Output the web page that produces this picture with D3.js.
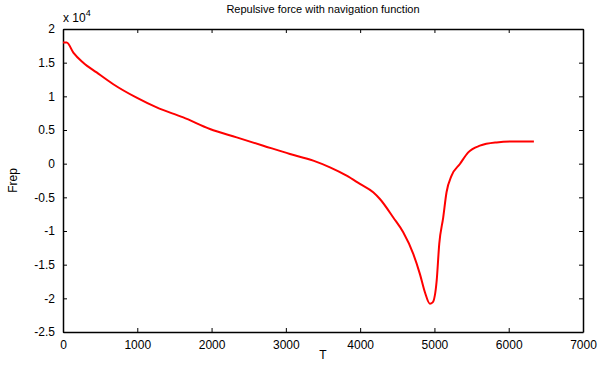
<!DOCTYPE html>
<html>
<head>
<meta charset="utf-8">
<script src="https://cdn.jsdelivr.net/npm/d3@7/dist/d3.min.js"></script>
<style>
  body { margin: 0; background: #fff; }
  text { font-family: "Liberation Sans", Arial, sans-serif; }
</style>
</head>
<body>
<svg id="chart" width="600" height="365"></svg>
<script>
// Repulsive force samples (T, Frep in units of 1e4)
const timeSteps = [0, 50, 139, 273, 453, 677, 991, 1261, 1619, 1978, 2338, 2696, 3055, 3369, 3594, 3818, 3997, 4176, 4266, 4446, 4580, 4715, 4805, 4872, 4939, 4976, 5030, 5065, 5118, 5163, 5231, 5343, 5455, 5612, 5837, 6061, 6339];
const frepValues = [1.80, 1.80, 1.65, 1.50, 1.355, 1.18, 0.98, 0.835, 0.687, 0.514, 0.39, 0.267, 0.144, 0.045, -0.055, -0.178, -0.30, -0.425, -0.525, -0.80, -1.02, -1.34, -1.64, -1.91, -2.08, -2.06, -1.74, -1.19, -0.80, -0.425, -0.178, -0.005, 0.168, 0.267, 0.316, 0.33, 0.33];
const xTicks = [0, 1000, 2000, 3000, 4000, 5000, 6000, 7000];
const yTicks = [-2.5, -2, -1.5, -1, -0.5, 0, 0.5, 1, 1.5, 2];

const svg = d3.select("#chart");
const plotLeft = 63, plotRight = 583, plotTop = 29, plotBottom = 332;

const x = d3.scaleLinear().domain([0, 7000]).range([plotLeft, plotRight]);
const y = d3.scaleLinear().domain([-2.5, 2]).range([plotBottom, plotTop]);

// Axes with inward ticks (box style)
svg.append("g").attr("transform", `translate(0,${plotBottom})`)
  .call(d3.axisBottom(x).tickValues(xTicks).tickSizeInner(-4).tickSizeOuter(0).tickPadding(8).tickFormat(d3.format("d")));
svg.append("g").attr("transform", `translate(0,${plotTop})`)
  .call(d3.axisTop(x).tickValues(xTicks).tickSizeInner(-4).tickSizeOuter(0).tickFormat(""));
svg.append("g").attr("transform", `translate(${plotLeft},0)`)
  .call(d3.axisLeft(y).tickValues(yTicks).tickSizeInner(-4).tickSizeOuter(0).tickPadding(8).tickFormat(d => String(d)));
svg.append("g").attr("transform", `translate(${plotRight},0)`)
  .call(d3.axisRight(y).tickValues(yTicks).tickSizeInner(-4).tickSizeOuter(0).tickFormat(""));

svg.selectAll(".domain").attr("stroke", "#000").attr("stroke-width", 1.5);
svg.selectAll(".tick line").attr("stroke", "#000");
svg.selectAll(".tick text").attr("font-size", 12).attr("fill", "#000")
  .attr("font-family", "Liberation Sans, Arial, sans-serif");

// Curve
const line = d3.line().curve(d3.curveMonotoneX).x((d, i) => x(timeSteps[i])).y(d => y(d));
svg.append("path").datum(frepValues)
  .attr("d", line)
  .attr("fill", "none")
  .attr("stroke", "#ff0000")
  .attr("stroke-width", 2);

// Exponent label
const expo = svg.append("text").attr("x", plotLeft).attr("y", 22).attr("font-size", 12).attr("fill", "#000");
expo.append("tspan").text("x 10");
expo.append("tspan").attr("dy", -6).attr("font-size", 9).text("4");

// Title and axis labels
svg.append("text").attr("x", (plotLeft + plotRight) / 2).attr("y", 13)
  .attr("text-anchor", "middle").attr("font-size", 11).text("Repulsive force with navigation function");
svg.append("text").attr("x", (plotLeft + plotRight) / 2).attr("y", 359)
  .attr("text-anchor", "middle").attr("font-size", 12).text("T");
svg.append("text").attr("transform", `translate(17,${(plotTop + plotBottom) / 2}) rotate(-90)`)
  .attr("text-anchor", "middle").attr("font-size", 12).text("Frep");
</script>
</body>
</html>
